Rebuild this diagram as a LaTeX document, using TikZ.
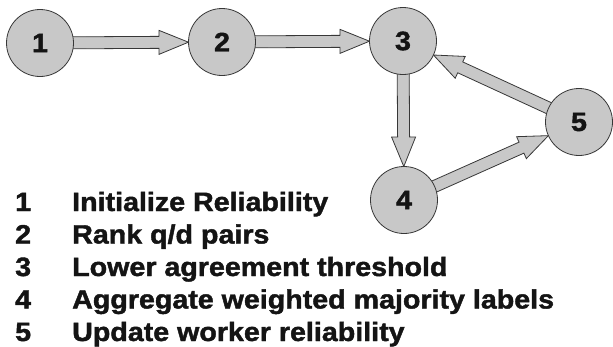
\documentclass[tikz,border=0pt]{standalone}
\usepackage{fontspec}
\setmainfont{Liberation Sans}
\newfontfamily\legfont[FakeStretch=1.08, FakeBold=1.6]{Liberation Sans Bold}
\usetikzlibrary{calc,backgrounds}
\definecolor{stagegray}{RGB}{200,200,200}
\definecolor{edgegray}{RGB}{55,55,55}
\definecolor{inkblack}{RGB}{20,20,20}
\tikzset{
  stage/.style={circle, draw=edgegray, fill=stagegray, line width=0.8pt,
    minimum size=67pt, inner sep=0pt,
    font=\legfont\fontsize{26.5}{33}\selectfont\color{inkblack}},
  fatarr/.style={draw=edgegray, fill=stagegray, line width=0.8pt, line join=miter},
  legnum/.style={anchor=base west, inner sep=0pt,
    font=\legfont\fontsize{26.5}{33}\selectfont\color{inkblack}},
  legtxt/.style={anchor=base west, inner sep=0pt,
    font=\legfont\fontsize{26.5}{33}\selectfont\color{inkblack}}
}
%% hollow block arrow from node #1 to node #2
\newcommand{\fatarrow}[2]{%
  \draw[fatarr]
    ($(#1.center)!26pt!(#2.center)!6pt!90:(#2.center)$)
    -- ($(#2.center)!63pt!(#1.center)!6pt!-90:(#1.center)$)
    -- ($(#2.center)!63pt!(#1.center)!12pt!-90:(#1.center)$)
    -- ($(#2.center)!33.5pt!(#1.center)$)
    -- ($(#2.center)!63pt!(#1.center)!12pt!90:(#1.center)$)
    -- ($(#2.center)!63pt!(#1.center)!6pt!90:(#1.center)$)
    -- ($(#1.center)!26pt!(#2.center)!6pt!-90:(#2.center)$)
    -- cycle;}

\begin{document}
\begin{tikzpicture}[x=1pt,y=-1pt]
\useasboundingbox (0,0) rectangle (613,346);

%% stages
\node[stage] (s1) at (40,43)   {1};
\node[stage] (s2) at (222,42)  {2};
\node[stage] (s3) at (403,41)  {3};
\node[stage] (s4) at (404,200) {4};
\node[stage] (s5) at (579,122) {5};

%% flow
\begin{scope}[on background layer]
\fatarrow{s1}{s2}
\fatarrow{s2}{s3}
\fatarrow{s3}{s4}
\fatarrow{s4}{s5}
\fatarrow{s5}{s3}
\end{scope}

%% legend
\foreach \txt [count=\n] in {Initialize Reliability, {Rank q/d pairs},
    Lower agreement threshold, Aggregate weighted majority labels,
    Update worker reliability}{
  \node[legnum] (n\n) at (15,{211+32.5*(\n-1)}) {\n};
  \node[legtxt] (t\n) at (72,{211+32.5*(\n-1)}) {\txt};
}

\end{tikzpicture}
\end{document}
